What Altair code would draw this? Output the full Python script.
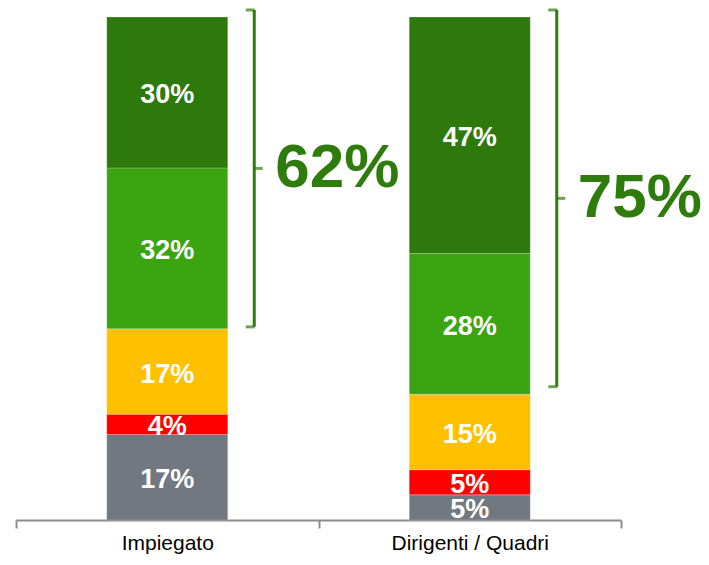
import altair as alt
import pandas as pd

categories = ["Impiegato", "Dirigenti / Quadri"]
segments = ["Non so", "Per nulla", "Poco", "Abbastanza", "Molto"]
colors = ["#717880", "#FF0000", "#FFC000", "#3BA511", "#2E790B"]
values_impiegato = [17, 4, 17, 32, 30]
values_dirigenti = [5, 5, 15, 28, 47]
bracket_low = [38.4, 26.5]
bracket_high = [101.4, 101.4]
bracket_labels = ["62%", "75%"]

rows = []
for cat, vals in zip(categories, [values_impiegato, values_dirigenti]):
    for i, (seg, v) in enumerate(zip(segments, vals)):
        rows.append({"cat": cat, "seg": seg, "order": i, "value": v, "label": f"{v}%"})
df = pd.DataFrame(rows)

br = pd.DataFrame({"cat": categories, "lo": bracket_low, "hi": bracket_high,
                   "label": bracket_labels})
br["mid"] = (br["lo"] + br["hi"]) / 2

xenc = alt.X("cat:N", sort=categories, title=None,
             scale=alt.Scale(paddingInner=0, paddingOuter=0),
             axis=alt.Axis(labelAngle=0, labelFont="Liberation Sans", labelFontSize=21,
                           labelColor="#000000", labelPadding=4,
                           domainColor="#8C8C8C", domainWidth=2,
                           tickColor="#8C8C8C", tickWidth=2, tickSize=8,
                           tickBand="extent"))
yscale = alt.Scale(domain=[0, 100])

bars = alt.Chart(df).mark_bar(size=121, stroke="#ffffff", strokeWidth=0.6,
                              strokeOpacity=0.35).encode(
    x=xenc,
    y=alt.Y("value:Q", stack="zero", scale=yscale, axis=None),
    color=alt.Color("seg:N", sort=segments,
                    scale=alt.Scale(domain=segments, range=colors), legend=None),
    order=alt.Order("order:Q"),
)

labels = alt.Chart(df).transform_stack(
    stack="value", groupby=["cat"], as_=["v0", "v1"],
    sort=[alt.SortField("order", order="ascending")]
).transform_calculate(mid="(datum.v0 + datum.v1) / 2").mark_text(
    font="Liberation Sans", fontSize=27, fontWeight="bold", color="#FFFFFF",
    baseline="middle", dy=3
).encode(
    x=alt.X("cat:N", sort=categories),
    y=alt.Y("mid:Q", scale=yscale),
    text="label:N",
)

green = "#2E7D0C"
vline = alt.Chart(br).mark_rule(color=green, strokeWidth=3, xOffset=87).encode(
    x=alt.X("cat:N", sort=categories), y=alt.Y("lo:Q", scale=yscale), y2="hi:Q")
top_serif = alt.Chart(br).mark_tick(color=green, thickness=3, size=9, xOffset=83,
                                    orient="horizontal").encode(
    x=alt.X("cat:N", sort=categories), y=alt.Y("hi:Q", scale=yscale))
bot_serif = alt.Chart(br).mark_tick(color=green, thickness=3, size=9, xOffset=83,
                                    orient="horizontal").encode(
    x=alt.X("cat:N", sort=categories), y=alt.Y("lo:Q", scale=yscale))
nub = alt.Chart(br).mark_tick(color=green, thickness=3, size=9, xOffset=91,
                              orient="horizontal").encode(
    x=alt.X("cat:N", sort=categories), y=alt.Y("mid:Q", scale=yscale))
big = alt.Chart(br).mark_text(color=green, font="Liberation Sans", fontSize=62,
                              fontWeight="bold", xOffset=170, dy=0,
                              baseline="middle").encode(
    x=alt.X("cat:N", sort=categories), y=alt.Y("mid:Q", scale=yscale), text="label:N")

chart = alt.layer(bars, labels, vline, top_serif, bot_serif, nub, big).properties(
    width=605, height=503,
    autosize=alt.AutoSizeParams(type="none"),
    padding={"left": 8, "top": 9, "right": 80, "bottom": 35},
).configure_view(stroke=None)

chart.save("out.html", embed_options={"renderer": "svg", "actions": False})
